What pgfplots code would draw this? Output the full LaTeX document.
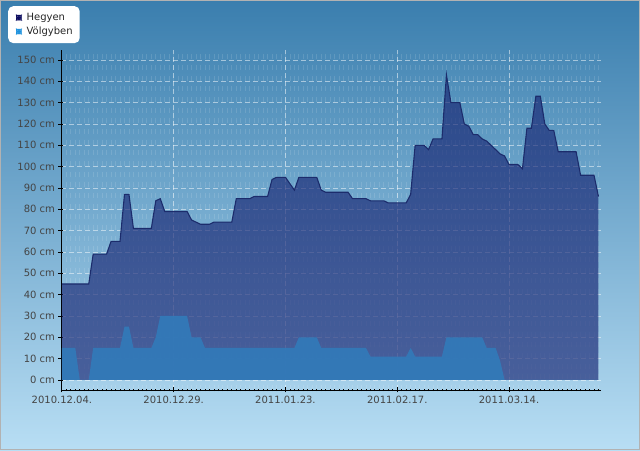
\documentclass[border=0pt]{standalone}
\usepackage{fontspec}
\setmainfont{DejaVu Sans}
\usepackage{pgfplots}
\pgfplotsset{compat=1.18}
\usepackage{pgfplotstable}
\definecolor{bgtop}{HTML}{3A7EAE}
\definecolor{bgbot}{HTML}{B8DEF4}
\definecolor{hegfill}{RGB}{23,36,114}
\definecolor{hegline}{HTML}{1C2C6C}
\definecolor{volfill}{HTML}{327AB9}
\definecolor{labgray}{HTML}{444444}
\definecolor{leghegy}{HTML}{0B0B5E}
\definecolor{legvol}{HTML}{1E92DE}

\pgfplotstableread{
day val
0 45
1 45
2 45
3 45
4 45
5 45
6 45
7 59
8 59
9 59
10 59
11 65
12 65
13 65
14 87
15 87
16 71
17 71
18 71
19 71
20 71
21 84
22 85
23 79
24 79
25 79
26 79
27 79
28 79
29 75
30 74
31 73
32 73
33 73
34 74
35 74
36 74
37 74
38 74
39 85
40 85
41 85
42 85
43 86
44 86
45 86
46 86
47 94
48 95
49 95
50 95
51 92
52 89
53 95
54 95
55 95
56 95
57 95
58 89
59 88
60 88
61 88
62 88
63 88
64 88
65 85
66 85
67 85
68 85
69 84
70 84
71 84
72 84
73 83
74 83
75 83
76 83
77 83
78 87
79 110
80 110
81 110
82 108
83 113
84 113
85 113
86 143
87 130
88 130
89 130
90 120
91 119
92 115
93 115
94 113
95 112
96 110
97 108
98 106
99 105
100 101
101 101
102 101
103 99
104 118
105 118
106 133
107 133
108 120
109 117
110 117
111 107
112 107
113 107
114 107
115 107
116 96
117 96
118 96
119 96
120 86
}\hegyen

\pgfplotstableread{
day val
0 15
1 15
2 15
3 15
4 0
5 0
6 0
7 15
8 15
9 15
10 15
11 15
12 15
13 15
14 25
15 25
16 15
17 15
18 15
19 15
20 15
21 20
22 30
23 30
24 30
25 30
26 30
27 30
28 30
29 20
30 20
31 20
32 15
33 15
34 15
35 15
36 15
37 15
38 15
39 15
40 15
41 15
42 15
43 15
44 15
45 15
46 15
47 15
48 15
49 15
50 15
51 15
52 15
53 20
54 20
55 20
56 20
57 20
58 15
59 15
60 15
61 15
62 15
63 15
64 15
65 15
66 15
67 15
68 15
69 11
70 11
71 11
72 11
73 11
74 11
75 11
76 11
77 11
78 15
79 11
80 11
81 11
82 11
83 11
84 11
85 11
86 20
87 20
88 20
89 20
90 20
91 20
92 20
93 20
94 20
95 15
96 15
97 15
98 9
99 0
100 0
101 0
102 0
103 0
104 0
105 0
106 0
107 0
108 0
109 0
110 0
111 0
112 0
113 0
114 0
115 0
116 0
117 0
118 0
119 0
120 0
}\volgyben

\begin{document}
\begin{tikzpicture}[x=1pt,y=1pt]
\shade[top color=bgtop,bottom color=bgbot] (0,0) rectangle (640,450);
\draw[color=gray!60, line width=1pt] (0.5,0.5) rectangle (639.5,449.5);
\begin{axis}[
  at={(61pt,60pt)}, anchor=south west,
  scale only axis, width=539.7pt, height=340pt,
  xmin=-0.2, xmax=120.5, ymin=-4.7, ymax=154.7,
  axis x line*=bottom, axis y line*=left,
  axis line style={black, line width=0.9pt},
  xtick={0,25,50,75,100},
  xticklabels={2010.12.04.,2010.12.29.,2011.01.23.,2011.02.17.,2011.03.14.},
  minor xtick={0,1,...,120},
  ytick={0,10,...,150},
  yticklabels={0 cm,10 cm,20 cm,30 cm,40 cm,50 cm,60 cm,70 cm,80 cm,90 cm,100 cm,110 cm,120 cm,130 cm,140 cm,150 cm},
  tick align=center,
  major tick length=5pt, minor tick length=2.5pt,
  tick style={black, line width=0.8pt},
  xmajorgrids, ymajorgrids, xminorgrids,
  major grid style={white, opacity=0.5, line width=0.8pt, dash pattern=on 5pt off 3pt},
  minor grid style={white, opacity=0.12, line width=0.8pt, dash pattern=on 5pt off 5.67pt},
  ticklabel style={font=\fontsize{10}{12}\selectfont, text=labgray},
  legend style={at={(-0.0982,1.1294)}, anchor=north west, fill=white, draw=none,
    rounded corners=5pt, font=\fontsize{10}{12}\selectfont, text=black!85,
    inner xsep=5pt, inner ysep=5pt, row sep=1pt},
  legend cell align=left,
]
\addlegendimage{legend image code/.code={\path (-3pt,0pt) (8pt,0pt); \fill[leghegy] (0pt,-2.5pt) rectangle (5pt,2.5pt);}}
\addlegendentry{Hegyen}
\addlegendimage{legend image code/.code={\path (-3pt,0pt) (8pt,0pt); \fill[legvol] (0pt,-2.5pt) rectangle (5pt,2.5pt);}}
\addlegendentry{Völgyben}
\addplot[forget plot, draw=none, fill=hegfill, fill opacity=0.65] table[x=day,y=val]{\hegyen} \closedcycle;
\addplot[forget plot, draw=hegline, line width=1.1pt] table[x=day,y=val]{\hegyen};
\addplot[forget plot, draw=none, fill=volfill, fill opacity=0.93] table[x=day,y=val]{\volgyben} \closedcycle;
\end{axis}
\end{tikzpicture}
\end{document}
